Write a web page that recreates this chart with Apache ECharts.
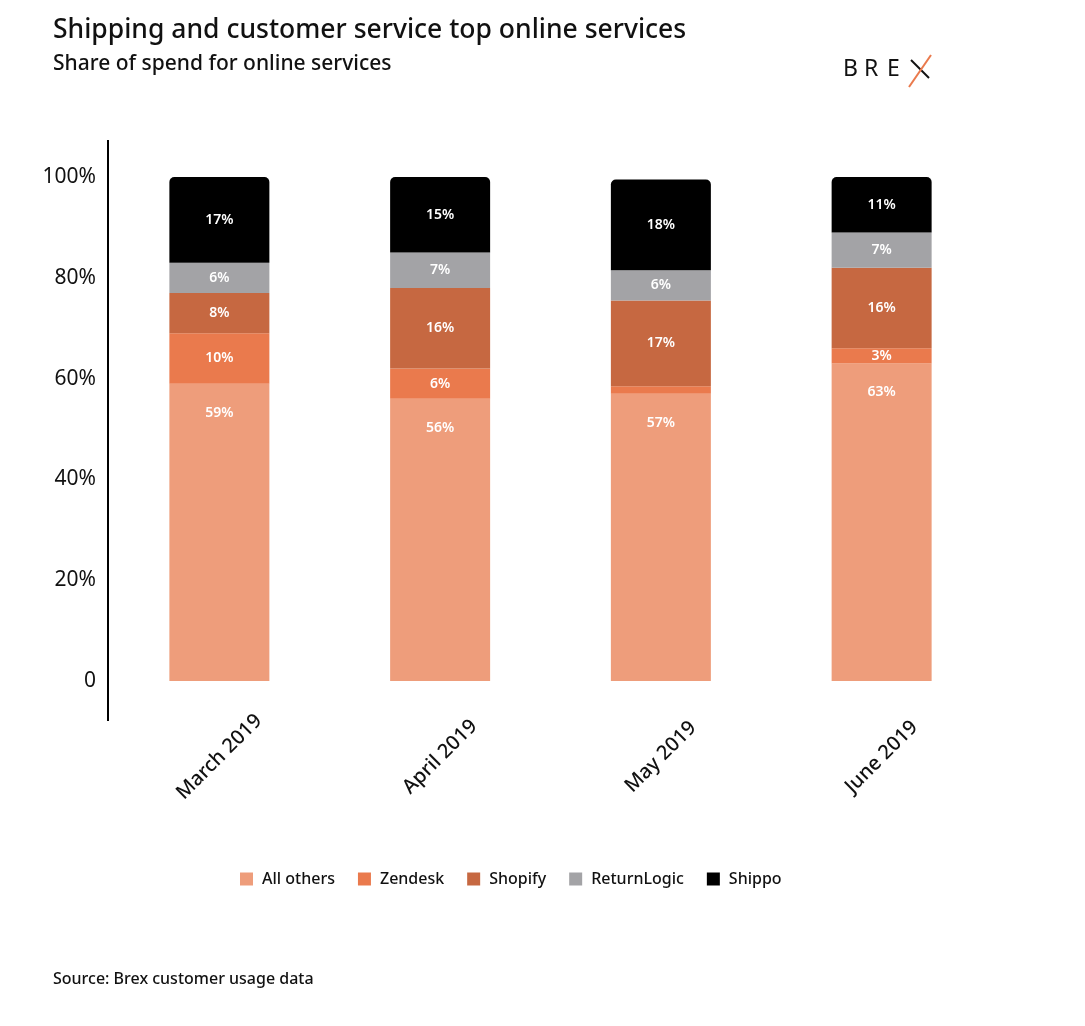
<!DOCTYPE html>
<html>
<head>
<meta charset="utf-8">
<title>Shipping and customer service top online services</title>
<script src="https://cdn.jsdelivr.net/npm/echarts@6/dist/echarts.min.js"></script>
<style>
  html, body { margin: 0; padding: 0; background: #fff; }
  #chart { width: 1085px; height: 1026px; }
</style>
</head>
<body>
<div id="chart"></div>
<script>
// months on the x axis
const months = ['March 2019', 'April 2019', 'May 2019', 'June 2019'];

// share of spend (%) per service, bottom to top of the stack
const allOthers = [59, 56, 57, 63];
const zendesk = [10, 6, 1.5, 3];
const shopify = [8, 16, 17, 16];
const returnLogic = [6, 7, 6, 7];
const shippo = [17, 15, 18, 11];

const seriesNames = ['All others', 'Zendesk', 'Shopify', 'ReturnLogic', 'Shippo'];
const seriesValues = [allOthers, zendesk, shopify, returnLogic, shippo];
const seriesColors = ['#EE9D7B', '#EA7A4D', '#C66841', '#A3A3A6', '#000000'];

const FONT = 'Noto Sans';
const INK = '#111';

const chart = echarts.init(document.getElementById('chart'));

const series = seriesNames.map((name, i) => {
  const isTop = i === seriesNames.length - 1;
  return {
    name,
    type: 'bar',
    stack: 'spend',
    barWidth: 100,
    data: seriesValues[i],
    itemStyle: {
      color: seriesColors[i],
      // only the top block gets the rounded corners
      borderRadius: isTop ? [5, 5, 0, 0] : 0
    },
    label: {
      show: true,
      // the big bottom block has its label near its top edge
      position: i === 0 ? 'insideTop' : 'inside',
      distance: 22,
      color: '#fff',
      fontFamily: FONT,
      fontSize: 14,
      fontWeight: 600,
      // hide labels of slivers too thin to hold them
      formatter: p => (p.value < 2 ? '' : Math.round(p.value) + '%')
    },
    emphasis: { disabled: true }
  };
});

// BREX wordmark: letters as text, the X as two strokes
const logoFont = '400 23px "Noto Sans"';
const logo = [
  { type: 'text', x: 843, y: 69, style: { text: 'B', font: logoFont, fill: INK, verticalAlign: 'middle' } },
  { type: 'text', x: 864, y: 69, style: { text: 'R', font: logoFont, fill: INK, verticalAlign: 'middle' } },
  { type: 'text', x: 887, y: 69, style: { text: 'E', font: logoFont, fill: INK, verticalAlign: 'middle' } },
  { type: 'line', shape: { x1: 911, y1: 60, x2: 929, y2: 78 }, style: { stroke: INK, lineWidth: 2 } },
  { type: 'line', shape: { x1: 931, y1: 55, x2: 909, y2: 87 }, style: { stroke: '#EA7A4D', lineWidth: 2 } }
];

chart.setOption({
  backgroundColor: '#fff',
  animation: false,
  textStyle: { fontFamily: FONT },
  title: [
    {
      text: 'Shipping and customer service top online services',
      subtext: 'Share of spend for online services',
      left: 48,
      top: 12,
      itemGap: 10,
      textStyle: { fontFamily: FONT, fontSize: 26.5, fontWeight: 500, color: INK },
      subtextStyle: { fontFamily: FONT, fontSize: 21, fontWeight: 500, color: INK }
    },
    {
      text: 'Source: Brex customer usage data',
      left: 48,
      top: 966,
      textStyle: { fontFamily: FONT, fontSize: 16, fontWeight: 500, color: INK }
    }
  ],
  legend: {
    data: seriesNames,
    left: 235,
    top: 866,
    icon: 'rect',
    itemWidth: 13,
    itemHeight: 13,
    itemGap: 23,
    selectedMode: false,
    textStyle: { fontFamily: FONT, fontSize: 16, fontWeight: 500, color: INK, padding: [0, 0, 0, 4] }
  },
  grid: {
    left: 109,
    right: 93,
    top: 177,
    bottom: 345,
    containLabel: false
  },
  xAxis: {
    type: 'category',
    data: months,
    axisLine: { show: false },
    axisTick: { show: false },
    axisLabel: {
      rotate: 45,
      align: 'center',
      verticalAlign: 'middle',
      margin: 76,
      fontFamily: FONT,
      fontSize: 20,
      fontWeight: 500,
      color: INK
    }
  },
  yAxis: {
    type: 'value',
    min: 0,
    max: 100,
    interval: 20,
    axisLine: { show: false },
    axisTick: { show: false },
    splitLine: { show: false },
    axisLabel: {
      margin: 13,
      fontFamily: FONT,
      fontSize: 21,
      color: INK,
      formatter: v => (v === 0 ? '0' : v + '%')
    }
  },
  series,
  graphic: [
    // vertical axis rule, taller than the value range
    {
      type: 'line',
      shape: { x1: 108, y1: 140, x2: 108, y2: 721 },
      style: { stroke: '#000', lineWidth: 2 }
    }
  ].concat(logo)
});
</script>
</body>
</html>
